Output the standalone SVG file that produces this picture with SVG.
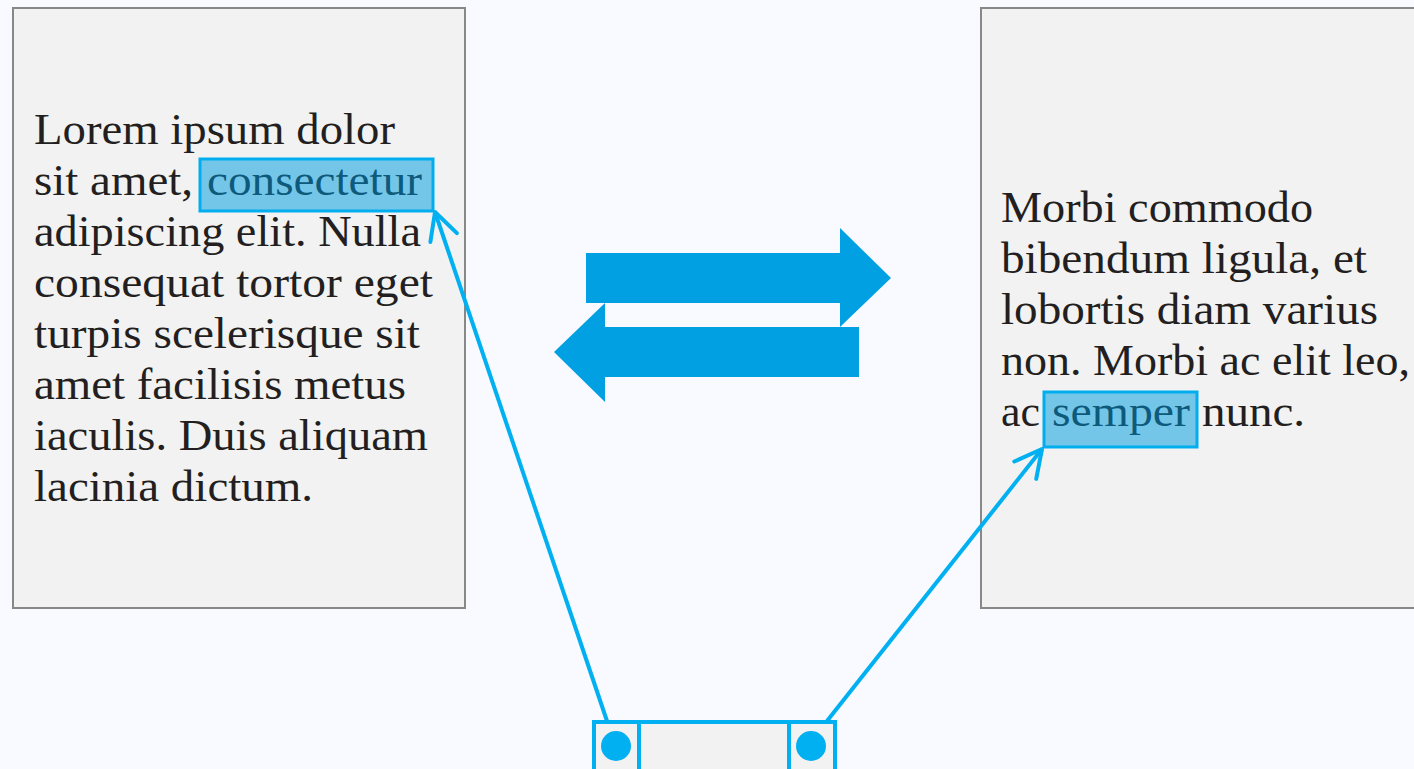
<svg xmlns="http://www.w3.org/2000/svg" width="1414" height="769" viewBox="0 0 1414 769">
<style>
.panel{fill:#f2f2f2;stroke:#888888;stroke-width:2}
.t{font-family:"Liberation Serif","Times New Roman",serif;font-size:44px;fill:#231f20}
.hl{fill:#74c6e8;stroke:#00aeef;stroke-width:3}
.ht{font-family:"Liberation Serif","Times New Roman",serif;font-size:44px;fill:#0d5a7c}
.big{fill:#00a0e2}
.conn{stroke:#00b0f0;stroke-width:4;fill:none}
.wid{fill:#f2f2f2;stroke:#00b0f0;stroke-width:4}
.dot{fill:#00b0f0}
</style>
<defs>
<marker id="open" markerUnits="userSpaceOnUse" markerWidth="40" markerHeight="40" viewBox="-32 -20 40 40" refX="0" refY="0" orient="auto">
<path d="M-27,-14 L0,0 L-27,14" fill="none" stroke="#00b0f0" stroke-width="4" stroke-linecap="round" stroke-linejoin="round"/>
</marker>
</defs>
<rect width="1414" height="769" fill="#f8faff"/>
<g id="left-panel">
<rect class="panel" x="13" y="8" width="452" height="600"/>
<rect class="hl" x="200" y="159" width="233" height="52"/>
<text class="t" x="34" y="144" textLength="361" lengthAdjust="spacingAndGlyphs">Lorem ipsum dolor</text>
<text class="t" x="34" y="195" textLength="159" lengthAdjust="spacingAndGlyphs">sit amet,</text>
<text class="ht" x="207" y="195" textLength="215" lengthAdjust="spacingAndGlyphs">consectetur</text>
<text class="t" x="34" y="246" textLength="387" lengthAdjust="spacingAndGlyphs">adipiscing elit. Nulla</text>
<text class="t" x="34" y="297" textLength="399" lengthAdjust="spacingAndGlyphs">consequat tortor eget</text>
<text class="t" x="34" y="348" textLength="386" lengthAdjust="spacingAndGlyphs">turpis scelerisque sit</text>
<text class="t" x="34" y="399" textLength="372" lengthAdjust="spacingAndGlyphs">amet facilisis metus</text>
<text class="t" x="34" y="450" textLength="394" lengthAdjust="spacingAndGlyphs">iaculis. Duis aliquam</text>
<text class="t" x="34" y="501" textLength="279" lengthAdjust="spacingAndGlyphs">lacinia dictum.</text>
</g>
<g id="right-panel">
<rect class="panel" x="981" y="8" width="440" height="600"/>
<rect class="hl" x="1044" y="392" width="153" height="55"/>
<text class="t" x="1001" y="222" textLength="312" lengthAdjust="spacingAndGlyphs">Morbi commodo</text>
<text class="t" x="1001" y="273" textLength="366" lengthAdjust="spacingAndGlyphs">bibendum ligula, et</text>
<text class="t" x="1001" y="324" textLength="377" lengthAdjust="spacingAndGlyphs">lobortis diam varius</text>
<text class="t" x="1001" y="375" textLength="409" lengthAdjust="spacingAndGlyphs">non. Morbi ac elit leo,</text>
<text class="t" x="1001" y="426" textLength="39" lengthAdjust="spacingAndGlyphs">ac</text>
<text class="ht" x="1052" y="426" textLength="138" lengthAdjust="spacingAndGlyphs">semper</text>
<text class="t" x="1202" y="426" textLength="103" lengthAdjust="spacingAndGlyphs">nunc.</text>
</g>
<g id="exchange-arrows">
<path class="big" d="M586,253 H840 V228 L891,278 L840,327 V303 H586 Z"/>
<path class="big" d="M859,327 H605 V303 L554,352 L605,402 V377 H859 Z"/>
</g>
<g id="widget">
<rect class="wid" x="594" y="722" width="241" height="60"/>
<line x1="639" y1="722" x2="639" y2="769" stroke="#00b0f0" stroke-width="4"/>
<line x1="789" y1="722" x2="789" y2="769" stroke="#00b0f0" stroke-width="4"/>
<circle class="dot" cx="616" cy="746" r="15"/>
<circle class="dot" cx="811" cy="746" r="15"/>
</g>
<g id="connectors">
<line class="conn" x1="607" y1="721" x2="435" y2="212" marker-end="url(#open)"/>
<line class="conn" x1="827" y1="721" x2="1042" y2="449" marker-end="url(#open)"/>
</g>
</svg>
